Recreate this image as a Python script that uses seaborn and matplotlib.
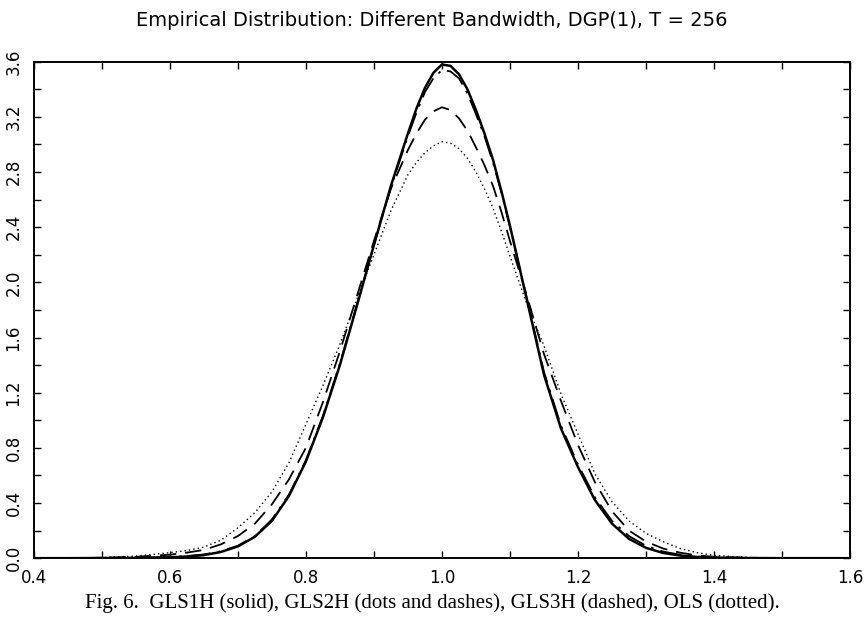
import matplotlib
matplotlib.use("Agg")
import numpy as np
import pandas as pd
import matplotlib.pyplot as plt
import seaborn as sns
from matplotlib.ticker import MultipleLocator

# --- Datos ---
x_vals = [0.40, 0.45, 0.50, 0.55, 0.60, 0.625, 0.65, 0.675, 0.70, 0.725, 0.75,
          0.775, 0.80, 0.825, 0.85, 0.875, 0.90, 0.925, 0.95, 0.9625, 0.975,
          0.9875, 1.00, 1.0125, 1.025, 1.0375, 1.05, 1.0625, 1.075, 1.0875,
          1.10, 1.125, 1.15, 1.175, 1.20, 1.225, 1.25, 1.275, 1.30, 1.325,
          1.35, 1.375, 1.40, 1.45, 1.50, 1.55, 1.60]

gls1h = [0.0, 0.0, 0.001, 0.002, 0.006, 0.012, 0.022, 0.045, 0.085, 0.155, 0.27,
         0.45, 0.70, 1.02, 1.40, 1.83, 2.27, 2.70, 3.08, 3.26, 3.41,
         3.52, 3.58, 3.57, 3.51, 3.40, 3.25, 3.08, 2.89, 2.66,
         2.41, 1.87, 1.33, 0.94, 0.66, 0.42, 0.25, 0.14, 0.075, 0.038,
         0.019, 0.009, 0.004, 0.001, 0.0, 0.0, 0.0]

gls2h = [0.0, 0.0, 0.001, 0.003, 0.008, 0.015, 0.027, 0.05, 0.09, 0.16, 0.28,
         0.46, 0.71, 1.03, 1.41, 1.84, 2.27, 2.69, 3.06, 3.23, 3.38,
         3.48, 3.54, 3.53, 3.48, 3.37, 3.22, 3.06, 2.87, 2.65,
         2.40, 1.88, 1.35, 0.96, 0.68, 0.44, 0.27, 0.16, 0.09, 0.048,
         0.025, 0.012, 0.006, 0.002, 0.0, 0.0, 0.0]

gls3h = [0.0, 0.0, 0.003, 0.01, 0.025, 0.04, 0.06, 0.10, 0.16, 0.25, 0.39,
         0.57, 0.80, 1.13, 1.50, 1.90, 2.30, 2.68, 2.96, 3.08, 3.18,
         3.24, 3.27, 3.25, 3.19, 3.10, 2.98, 2.85, 2.70, 2.51,
         2.30, 1.90, 1.48, 1.14, 0.82, 0.55, 0.34, 0.20, 0.12, 0.07,
         0.04, 0.02, 0.01, 0.003, 0.0, 0.0, 0.0]

ols = [0.0, 0.001, 0.005, 0.015, 0.04, 0.055, 0.08, 0.13, 0.22, 0.33, 0.48,
       0.69, 0.97, 1.25, 1.55, 1.88, 2.20, 2.52, 2.78, 2.87, 2.94,
       2.99, 3.02, 3.01, 2.97, 2.90, 2.80, 2.68, 2.54, 2.37,
       2.19, 1.84, 1.54, 1.19, 0.90, 0.61, 0.41, 0.27, 0.18, 0.12,
       0.07, 0.04, 0.02, 0.005, 0.0, 0.0, 0.0]

x_ticks = [0.4, 0.6, 0.8, 1.0, 1.2, 1.4, 1.6]
y_ticks = [0.0, 0.4, 0.8, 1.2, 1.6, 2.0, 2.4, 2.8, 3.2, 3.6]

titulo = "Empirical Distribution: Different Bandwidth, DGP(1), T = 256"
pie = "Fig. 6.  GLS1H (solid), GLS2H (dots and dashes), GLS3H (dashed), OLS (dotted)."

# --- Estilo ---
sns.set_style("ticks")
plt.rcParams['font.family'] = ['DejaVu Sans']
plt.rcParams['text.color'] = 'black'
plt.rcParams['xtick.color'] = 'black'
plt.rcParams['ytick.color'] = 'black'

fig, ax = plt.subplots(figsize=(8.64, 6.3), dpi=100)
fig.subplots_adjust(left=0.039, right=0.984, top=0.902, bottom=0.114)

series = [
    (gls1h, "-", 1.8),
    (gls2h, (0, (12, 4, 1.5, 4)), 1.3),
    (gls3h, (0, (9, 5)), 1.3),
    (ols, (0, (1, 2.2)), 1.0),
]
for valores, estilo, ancho in series:
    sns.lineplot(x=x_vals, y=valores, ax=ax, color="black",
                 linestyle=estilo, linewidth=ancho, sort=False)

# --- Ejes ---
ax.set_xlim(0.4, 1.6)
ax.set_ylim(0.0, 3.6)
ax.set_xticks(x_ticks)
ax.set_xticklabels([f"{t:.1f}" for t in x_ticks])
ax.set_yticks(y_ticks)
ax.set_yticklabels([f"{t:.1f}" for t in y_ticks], rotation=90, va="center")
ax.xaxis.set_minor_locator(MultipleLocator(0.1))
ax.yaxis.set_minor_locator(MultipleLocator(0.2))
ax.tick_params(which="both", direction="in", length=5, width=1.0,
               top=True, right=True, colors="black")
ax.tick_params(axis="both", which="major", labelsize=12, pad=8,
               labelcolor="black")
for lado in ax.spines.values():
    lado.set_linewidth(1.4)
    lado.set_color("black")
ax.set_xlabel("")
ax.set_ylabel("")

# --- Textos ---
fig.text(0.5, 0.968, titulo, ha="center", va="center", fontsize=14,
         color="black")
fig.text(0.5, 0.042, pie, ha="center", va="center", fontsize=15,
         color="black", family=["Liberation Serif", "DejaVu Serif"])

fig.savefig("out.png", dpi=100)
